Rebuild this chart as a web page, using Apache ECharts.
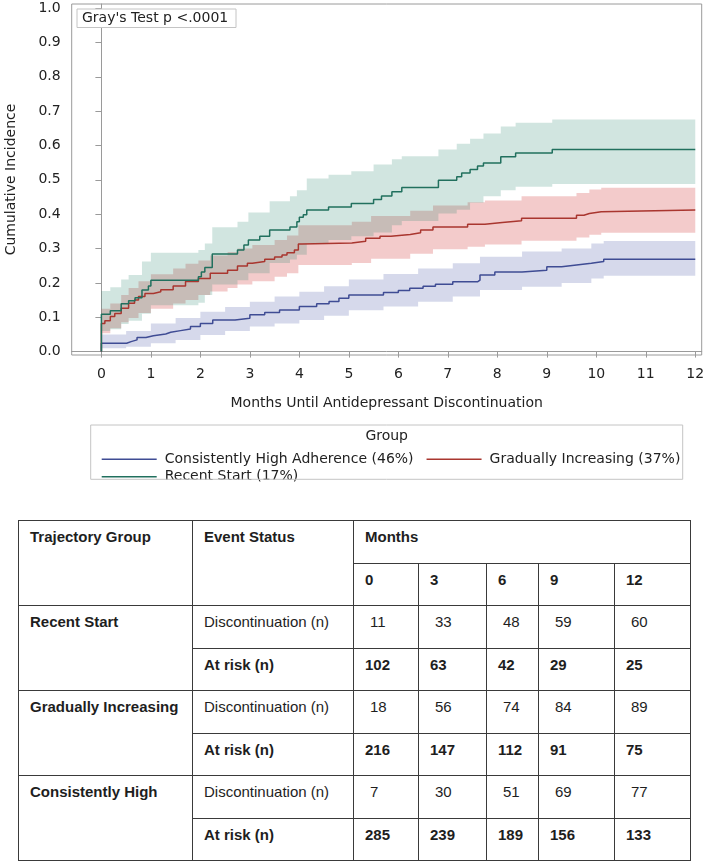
<!DOCTYPE html>
<html>
<head>
<meta charset="utf-8">
<script src="https://cdn.jsdelivr.net/npm/echarts@6/dist/echarts.min.js"></script>
<style>
html, body { margin: 0; padding: 0; background: #fff; }
#chart { position: absolute; left: 0; top: 0; width: 709px; height: 505px; }
#tbl { position: absolute; left: 18px; top: 520px; }
table { border-collapse: collapse; table-layout: fixed; width: 672px;
  font-family: 'Liberation Sans', Arial, sans-serif; font-size: 15px; color: #1e1e1e; }
td { border: 1.5px solid #3a3a3a; vertical-align: top; padding: 7px 0 0 11px; }
tr { height: 42.5px; }
td.b { font-weight: bold; }
td.ind { padding-left: 16px; }
</style>
</head>
<body>
<div id="chart"></div>
<div id="tbl"></div>
<script>
// ---------- axis ticks ----------
const monthTicks = [0, 1, 2, 3, 4, 5, 6, 7, 8, 9, 10, 11, 12];
const incidenceTicks = [0, 0.1, 0.2, 0.3, 0.4, 0.5, 0.6, 0.7, 0.8, 0.9, 1.0];

// ---------- Recent Start (17%) ----------
const recentT = [0, 0, 0.18, 0.40, 0.55, 0.68, 0.82, 0.95, 1.00, 1.96, 2.02, 2.09, 2.24, 2.75, 2.88, 2.97, 3.20, 3.40, 3.81, 3.95, 4.00, 4.08, 4.15, 4.59, 5.05, 5.50, 5.66, 5.87, 6.07, 6.81, 7.18, 7.28, 7.45, 7.60, 7.72, 8.07, 8.37, 9.11, 12];
const recentV = [0, 0.109, 0.119, 0.139, 0.148, 0.157, 0.179, 0.191, 0.208, 0.218, 0.232, 0.245, 0.284, 0.296, 0.310, 0.325, 0.336, 0.354, 0.363, 0.378, 0.391, 0.398, 0.412, 0.421, 0.431, 0.443, 0.453, 0.465, 0.478, 0.499, 0.509, 0.520, 0.530, 0.540, 0.549, 0.567, 0.578, 0.588, 0.588];
const recentBandT = [0, 0.18, 0.40, 0.55, 0.82, 1.00, 1.96, 2.09, 2.24, 2.75, 2.97, 3.40, 3.81, 3.95, 4.15, 4.59, 5.05, 5.50, 5.87, 6.07, 6.81, 7.18, 7.45, 7.72, 8.07, 8.37, 9.11, 12];
const recentLo = [0.060, 0.065, 0.080, 0.090, 0.110, 0.135, 0.142, 0.165, 0.195, 0.208, 0.228, 0.258, 0.268, 0.282, 0.315, 0.325, 0.336, 0.347, 0.368, 0.380, 0.402, 0.413, 0.433, 0.452, 0.470, 0.480, 0.488, 0.488];
const recentHi = [0.176, 0.187, 0.210, 0.223, 0.262, 0.288, 0.296, 0.315, 0.362, 0.378, 0.405, 0.438, 0.452, 0.470, 0.504, 0.515, 0.525, 0.545, 0.560, 0.569, 0.588, 0.605, 0.620, 0.635, 0.655, 0.666, 0.676, 0.676];

// ---------- Gradually Increasing (37%) ----------
const gradualT = [0, 0, 0.07, 0.18, 0.27, 0.40, 0.55, 0.67, 0.75, 0.88, 1.05, 1.20, 1.45, 1.70, 1.96, 2.20, 2.55, 2.75, 2.95, 3.05, 3.30, 3.50, 3.65, 3.75, 3.90, 3.98, 4.05, 5.06, 5.34, 5.63, 5.85, 6.24, 6.45, 6.70, 7.40, 7.75, 8.10, 8.49, 9.60, 9.75, 9.86, 10.10, 12];
const gradualV = [0, 0.082, 0.090, 0.102, 0.111, 0.126, 0.141, 0.150, 0.160, 0.169, 0.174, 0.180, 0.191, 0.204, 0.213, 0.228, 0.237, 0.249, 0.257, 0.262, 0.269, 0.275, 0.281, 0.288, 0.296, 0.313, 0.316, 0.321, 0.330, 0.336, 0.341, 0.346, 0.354, 0.363, 0.371, 0.376, 0.381, 0.388, 0.397, 0.402, 0.407, 0.412, 0.412];
const gradualBandT = [0, 0.18, 0.40, 0.55, 0.75, 1.00, 1.45, 1.70, 1.96, 2.20, 2.55, 2.75, 3.05, 3.50, 3.75, 3.98, 5.06, 5.45, 6.24, 6.70, 7.40, 7.75, 8.49, 9.60, 9.86, 10.10, 12];
const gradualLo = [0.053, 0.068, 0.085, 0.098, 0.112, 0.125, 0.140, 0.150, 0.165, 0.175, 0.185, 0.195, 0.205, 0.218, 0.228, 0.252, 0.258, 0.270, 0.285, 0.298, 0.305, 0.312, 0.323, 0.332, 0.340, 0.346, 0.346];
const gradualHi = [0.125, 0.140, 0.165, 0.185, 0.205, 0.225, 0.242, 0.256, 0.265, 0.280, 0.290, 0.300, 0.310, 0.325, 0.338, 0.368, 0.378, 0.395, 0.410, 0.425, 0.435, 0.440, 0.452, 0.462, 0.472, 0.477, 0.477];

// ---------- Consistently High Adherence (46%) ----------
const consistT = [0, 0, 0.51, 0.60, 0.72, 0.90, 1.05, 1.30, 1.40, 1.60, 1.80, 2.00, 2.25, 2.70, 3.00, 3.30, 3.60, 4.00, 4.35, 4.60, 4.80, 5.00, 5.70, 6.00, 6.23, 6.50, 6.75, 7.10, 7.60, 7.65, 7.95, 8.50, 9.00, 9.30, 9.60, 9.90, 10.15, 12];
const consistV = [0, 0.024, 0.029, 0.034, 0.041, 0.046, 0.051, 0.056, 0.061, 0.066, 0.073, 0.082, 0.092, 0.097, 0.107, 0.114, 0.121, 0.131, 0.139, 0.146, 0.155, 0.165, 0.172, 0.178, 0.184, 0.190, 0.196, 0.203, 0.208, 0.223, 0.232, 0.237, 0.247, 0.252, 0.257, 0.262, 0.269, 0.269];
const consistBandT = [0, 0.5, 1.0, 1.5, 2.0, 2.5, 3.0, 3.5, 4.0, 4.5, 5.0, 5.7, 6.4, 7.1, 7.65, 8.5, 9.3, 9.9, 10.15, 12];
const consistLo = [0.010, 0.014, 0.024, 0.034, 0.048, 0.060, 0.073, 0.082, 0.092, 0.104, 0.120, 0.131, 0.145, 0.160, 0.179, 0.189, 0.200, 0.213, 0.221, 0.221];
const consistHi = [0.050, 0.060, 0.082, 0.098, 0.116, 0.130, 0.145, 0.160, 0.174, 0.190, 0.210, 0.226, 0.242, 0.257, 0.276, 0.291, 0.300, 0.315, 0.322, 0.322];

// ---------- table ----------
const tableMonths = [0, 3, 6, 9, 12];
const groupNames = ['Recent Start', 'Gradually Increasing', 'Consistently High'];
const discontinued = [[11, 33, 48, 59, 60], [18, 56, 74, 84, 89], [7, 30, 51, 69, 77]];
const atRisk = [[102, 63, 42, 29, 25], [216, 147, 112, 91, 75], [285, 239, 189, 156, 133]];

// ---------- build ----------
const FONT = 'DejaVu Sans';
const groups = [
  { name: 'Consistently High Adherence (46%)', t: consistT, v: consistV, bt: consistBandT, lo: consistLo, hi: consistHi,
    line: '#3f4c94', band: 'rgba(60,75,160,0.21)' },
  { name: 'Gradually Increasing (37%)', t: gradualT, v: gradualV, bt: gradualBandT, lo: gradualLo, hi: gradualHi,
    line: '#a9362f', band: 'rgba(215,75,75,0.29)' },
  { name: 'Recent Start (17%)', t: recentT, v: recentV, bt: recentBandT, lo: recentLo, hi: recentHi,
    line: '#21705e', band: 'rgba(40,130,110,0.21)' }
];

// step-shaped confidence band drawn as one polygon through the axis scales
function makeBandRenderer(fill) {
  return function (params, api) {
    if (params.dataIndexInside !== 0) return null;
    const n = params.dataInsideLength;
    const up = [], down = [];
    for (let i = 0; i < n - 1; i++) {
      const t0 = api.value(0, i), t1 = api.value(0, i + 1);
      const lo = api.value(1, i), hi = api.value(2, i);
      up.push(api.coord([t0, hi]), api.coord([t1, hi]));
      down.push(api.coord([t0, lo]), api.coord([t1, lo]));
    }
    return { type: 'polygon', shape: { points: up.concat(down.reverse()) }, style: { fill: fill } };
  };
}

const series = [];
groups.forEach((g, k) => {
  series.push({
    name: 'ci' + k, type: 'custom', silent: true, z: 1,
    encode: { x: 0, y: [1, 2] },
    renderItem: makeBandRenderer(g.band),
    data: g.bt.map((t, i) => [t, g.lo[i], g.hi[i]])
  });
});
groups.forEach((g) => {
  series.push({
    name: g.name, type: 'line', step: 'end', symbol: 'none', silent: true, z: 5,
    color: g.line, itemStyle: { color: g.line },
    lineStyle: { color: g.line, width: 1.5 },
    data: g.t.map((t, i) => [t, g.v[i]])
  });
});

const axisGray = '#9a9a9a';
const chart = echarts.init(document.getElementById('chart'), null, { renderer: 'canvas' });
chart.setOption({
  animation: false,
  textStyle: { fontFamily: FONT },
  grid: { left: 71.7, right: 7.3, top: 4, bottom: 150, containLabel: false, outerBoundsMode: 'none',
    show: true, borderColor: axisGray, borderWidth: 1, backgroundColor: 'transparent' },
  xAxis: {
    type: 'value', min: -0.6, max: 12.13,
    name: 'Months Until Antidepressant Discontinuation', nameLocation: 'middle', nameGap: 41,
    nameTextStyle: { fontFamily: FONT, fontSize: 14, color: '#222' },
    axisLine: { show: true, lineStyle: { color: axisGray } },
    axisTick: { show: true, length: 6, customValues: monthTicks, lineStyle: { color: axisGray } },
    axisLabel: { customValues: monthTicks, margin: 12, fontFamily: FONT, fontSize: 14, color: '#222' },
    splitLine: { show: false }
  },
  yAxis: {
    type: 'value', min: -0.01, max: 1.012,
    name: 'Cumulative Incidence', nameLocation: 'middle', nameGap: 53,
    nameTextStyle: { fontFamily: FONT, fontSize: 14, color: '#222' },
    axisLine: { show: true, lineStyle: { color: axisGray } },
    axisTick: { show: true, length: 6, customValues: incidenceTicks, lineStyle: { color: axisGray } },
    axisLabel: { customValues: incidenceTicks, margin: 11, fontFamily: FONT, fontSize: 14, color: '#222',
      formatter: (v) => v.toFixed(1) },
    splitLine: { show: false }
  },
  legend: [
    {
      data: [groups[0].name, groups[1].name], left: 96.7, top: 447.3, orient: 'horizontal',
      icon: 'rect', itemWidth: 55, itemHeight: 1.6, itemGap: 13, selectedMode: false,
      textStyle: { fontFamily: FONT, fontSize: 14, color: '#222', padding: [0, 0, 0, 3] }
    },
    {
      data: [groups[2].name], left: 96.7, top: 464.7, orient: 'horizontal',
      icon: 'rect', itemWidth: 55, itemHeight: 1.6, itemGap: 13, selectedMode: false,
      textStyle: { fontFamily: FONT, fontSize: 14, color: '#222', padding: [0, 0, 0, 3] }
    }
  ],
  graphic: [
    { type: 'rect', shape: { x: 77, y: 9, width: 159, height: 18.5 }, style: { fill: '#fff', stroke: '#c4c4c4', lineWidth: 1 }, z: 100 },
    { type: 'text', x: 82, y: 18.3, style: { text: "Gray's Test p <.0001", font: '14px "DejaVu Sans"', fill: '#222', verticalAlign: 'middle' }, z: 101 },
    { type: 'rect', shape: { x: 90.7, y: 425, width: 592, height: 54.3 }, style: { fill: 'none', stroke: '#c4c4c4', lineWidth: 1 }, z: 100 },
    { type: 'text', x: 386.7, y: 436, style: { text: 'Group', font: '14px "DejaVu Sans"', fill: '#222', align: 'center', verticalAlign: 'middle' }, z: 101 }
  ],
  series: series
});

// ---------- table ----------
(function buildTable() {
  const widths = [174, 161, 65, 68, 52, 76, 76];
  let h = '<table><colgroup>' + widths.map(w => '<col style="width:' + w + 'px">').join('') + '</colgroup>';
  h += '<tr><td class="b" rowspan="2">Trajectory Group</td><td class="b" rowspan="2">Event Status</td><td class="b" colspan="5">Months</td></tr>';
  h += '<tr>' + tableMonths.map(m => '<td class="b">' + m + '</td>').join('') + '</tr>';
  groupNames.forEach((g, i) => {
    h += '<tr><td class="b" rowspan="2">' + g + '</td><td>Discontinuation (n)</td>' +
      discontinued[i].map(v => '<td class="ind">' + v + '</td>').join('') + '</tr>';
    h += '<tr><td class="b">At risk (n)</td>' + atRisk[i].map(v => '<td class="b">' + v + '</td>').join('') + '</tr>';
  });
  h += '</table>';
  document.getElementById('tbl').innerHTML = h;
})();
</script>
</body>
</html>
